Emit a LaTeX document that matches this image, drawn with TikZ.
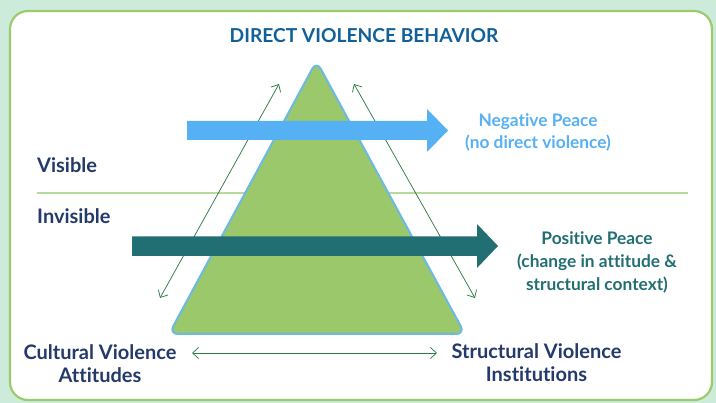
\documentclass[tikz,border=0pt]{standalone}
\usepackage{fontspec}
\setmainfont{Lato}[Ligatures=NoCommon]
\usetikzlibrary{arrows.meta}
\definecolor{bgout}{HTML}{CDEBDB}
\definecolor{panelline}{HTML}{9CCB6C}
\definecolor{tri}{HTML}{9AC86B}
\definecolor{triline}{HTML}{6CB9E2}
\definecolor{negblue}{HTML}{56B0F4}
\definecolor{teal}{HTML}{226F73}
\definecolor{navy}{HTML}{233A6A}
\definecolor{titleblue}{HTML}{11609A}
\definecolor{thin}{HTML}{2F7D45}
\definecolor{sep}{HTML}{B6D99C}
\tikzset{
  lbl/.style={align=center, inner sep=0pt, anchor=base},
  peace/.style={lbl, font=\bfseries\fontsize{17.3}{20}\selectfont},
  side/.style={lbl, font=\bfseries\fontsize{20}{23}\selectfont},
  thinarrow/.style={draw=thin, line width=0.75pt, {Straight Barb[length=6pt,width=11pt]}-{Straight Barb[length=6pt,width=11pt]}}
}
\begin{document}
\begin{tikzpicture}[x=1pt,y=-1pt]
\useasboundingbox (0,0) rectangle (716,403);
\fill[bgout] (0,0) rectangle (716,403);
\draw[panelline, fill=white, line width=2.2pt, rounded corners=18pt] (10,11) rectangle (712,400);
% separator
\coordinate (s1) at (37,193);
\coordinate (s2) at (688,193);
\draw[sep, line width=1.2pt] (s1) -- (s2);
% triangle
\coordinate (apex) at (316.5,61);
\coordinate (bl) at (169,334);
\coordinate (br) at (465,334);
\draw[triline, fill=tri, line width=2pt, rounded corners=9pt] (apex) -- (br) -- (bl) -- cycle;
% thin arrows
\coordinate (la) at (160,298);
\coordinate (lb) at (279,84);
\coordinate (ra) at (354,84);
\coordinate (rb) at (475,298);
\draw[thinarrow] (la) -- (lb);
\draw[thinarrow] (ra) -- (rb);
% negative arrow
\fill[negblue] (187,121) -- (427,121) -- (427,109) -- (448,130.5) -- (427,152) -- (427,140) -- (187,140) -- cycle;
% positive arrow
\fill[teal] (132,236.5) -- (477,236.5) -- (477,224) -- (498,246) -- (477,268) -- (477,256) -- (132,256) -- cycle;
% texts
\node[lbl, titleblue, font=\bfseries\fontsize{19.2}{22}\selectfont] (title) at (364,43) {DIRECT VIOLENCE BEHAVIOR};
\node[side, navy, anchor=base west] (vis) at (37,173) {Visible};
\node[side, navy, anchor=base west] (invis) at (37,224) {Invisible};
\node[peace, negblue] (neg1) at (538,126.5) {Negative Peace};
\node[peace, negblue] (neg2) at (538,149) {(no direct violence)};
\node[peace, teal] (pos1) at (597,245) {Positive Peace};
\node[peace, teal] (pos2) at (597,268) {(change in attitude \&};
\node[peace, teal] (pos3) at (597,290.5) {structural context)};
\node[side, navy] (cv1) at (100,360) {Cultural Violence};
\node[side, navy] (cv2) at (100,383) {Attitudes};
\node[side, navy] (sv1) at (536.5,359) {Structural Violence};
\node[side, navy] (sv2) at (536.5,382) {Institutions};
\coordinate (ba) at (192,353);
\coordinate (bb) at (437,353);
\draw[thinarrow] (ba) -- (bb);
\end{tikzpicture}
\end{document}
